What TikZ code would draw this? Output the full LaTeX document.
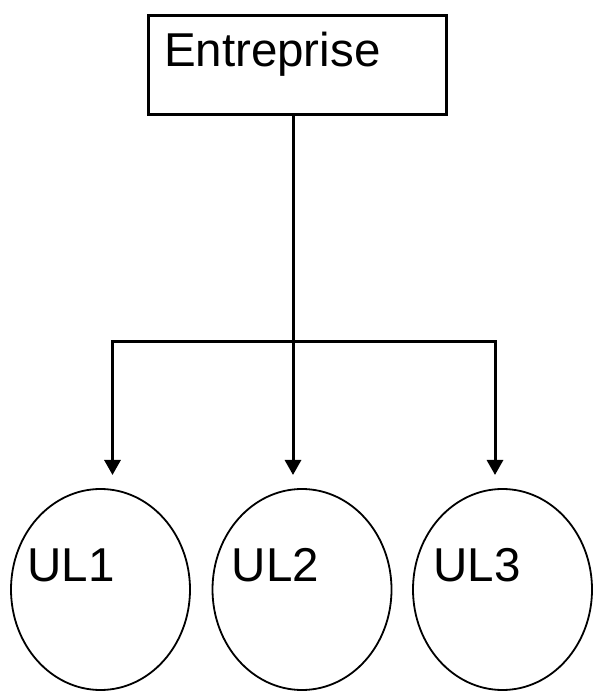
\documentclass[tikz,border=0pt]{standalone}
\usepackage{fontspec}
\setmainfont{Liberation Sans}
\usetikzlibrary{arrows.meta,shapes.geometric}

\begin{document}
\begin{tikzpicture}
  [x=1pt,y=1pt,font=\fontsize{47.5}{57}\selectfont,
   firm/.style={draw,line width=3.2pt,minimum width=298pt,minimum height=99pt,
     inner xsep=15.5pt,inner ysep=0pt,text width=267pt,align=left,
     text height=34pt,text depth=30pt},
   unit/.style={draw,ellipse,line width=1.8pt,minimum width=179pt,
     minimum height=201pt,inner sep=0pt},
   link/.style={line width=3pt},
   tip/.style={-{Triangle[length=15pt,width=16pt]}}]
  \useasboundingbox (0,0) rectangle (592,692);

  \node (ent) [firm] at (297.5,627) {Entreprise};

  \node (ul1) [unit] at (100.5,102.5) {};
  \node (ul2) [unit] at (302,102.5) {};
  \node (ul3) [unit] at (502.5,102.5) {};

  \foreach \n/\dx in {1/17,2/20,3/21}
    \node (t\n) [anchor=base west,inner sep=0pt] at ([shift={(\dx,7.5)}]ul\n.west) {UL\n};

  \coordinate (bus) at (293,350);
  \coordinate (barl) at (112.5,350);
  \coordinate (barr) at (495,350);
  \coordinate (in1) at (112.5,217);
  \coordinate (in2) at (293,217);
  \coordinate (in3) at (495,217);

  \draw[link,tip] (ent.south -| bus) -- (in2);
  \foreach \side/\to in {barl/in1,barr/in3}
    \draw[link,tip] (bus) -- (\side) -- (\to);

\end{tikzpicture}
\end{document}
